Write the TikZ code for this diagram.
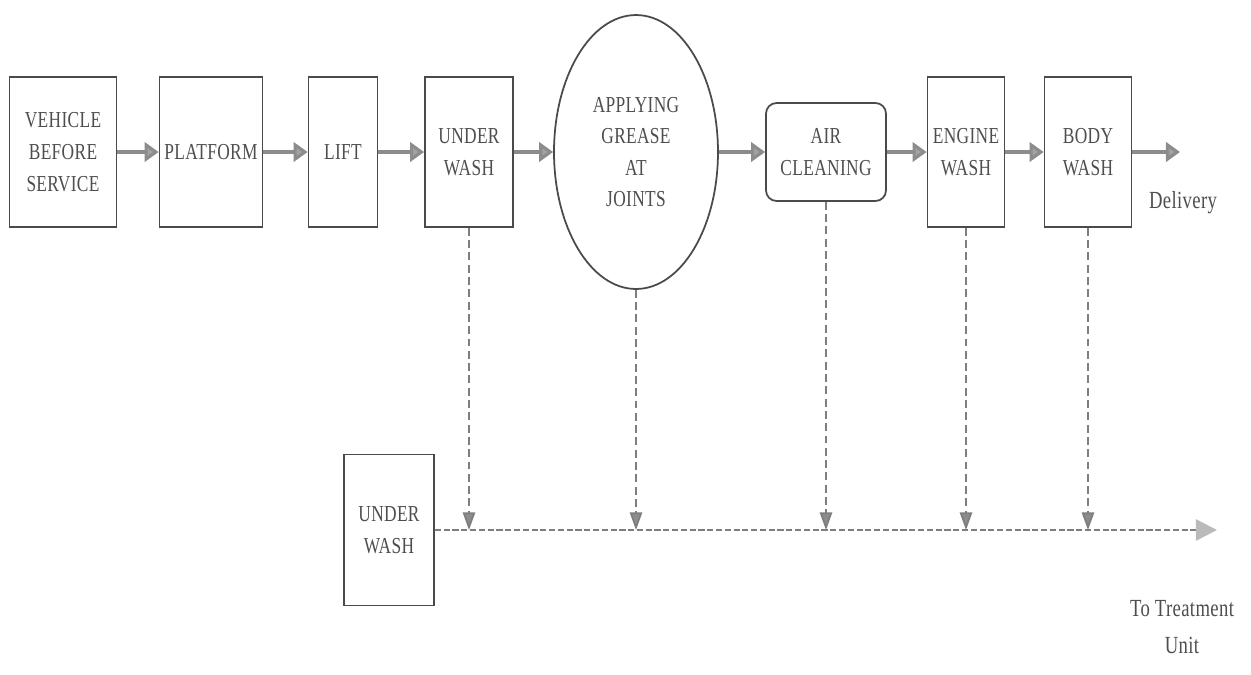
\documentclass[tikz,border=0pt]{standalone}
\usepackage{fontspec}
\setmainfont{Liberation Serif}[FakeStretch=0.76, LetterSpace=1.5]
\usetikzlibrary{arrows.meta,shapes.geometric}
\definecolor{inkline}{HTML}{4A4A4A}
\definecolor{inktext}{HTML}{4E4E4E}
\definecolor{flowgray}{HTML}{8C8C8C}
\begin{document}
\begin{tikzpicture}[
  x=0.02cm, y=-0.02cm,
  svcbox/.style = {draw=inkline, line width=1pt, inner sep=0pt, align=center,
                   text=inktext, font=\fontsize{13}{18}\selectfont},
  svcoval/.style = {svcbox, ellipse},
  svcflow/.style = {draw=flowgray, line width=1.8pt,
                    -{Triangle[length=8pt, width=11pt, fill=flowgray!80]}},
  svcdrain/.style = {draw=flowgray!90!black, line width=1pt,
                     dash pattern=on 4.5pt off 2.5pt,
                     -{Triangle[length=10pt, width=7pt, fill=flowgray]}},
  svclbl/.style = {text=inktext, font=\fontsize{14}{21}\selectfont, align=center}
]
  \useasboundingbox (0,0) rectangle (1251,674);
  % service line
  \node[svcbox, minimum width=2.14cm, minimum height=3cm] (vehicle) at (63,152) {VEHICLE\\BEFORE\\SERVICE};
  \node[svcbox, minimum width=2.06cm, minimum height=3cm] (platform) at (211,152) {PLATFORM};
  \node[svcbox, minimum width=1.38cm, minimum height=3cm] (lift) at (343,152) {LIFT};
  \node[svcbox, minimum width=1.76cm, minimum height=3cm] (uwash) at (469,152) {UNDER\\WASH};
  \node[svcoval, minimum width=3.28cm, minimum height=5.48cm] (grease) at (636,152) {APPLYING\\GREASE\\AT\\JOINTS};
  \node[svcbox, rounded corners=6pt, minimum width=2.4cm, minimum height=1.96cm] (air) at (826,152) {AIR\\CLEANING};
  \node[svcbox, minimum width=1.54cm, minimum height=3cm] (engine) at (966,152) {ENGINE\\WASH};
  \node[svcbox, minimum width=1.74cm, minimum height=3cm] (body) at (1088,152) {BODY\\WASH};
  \coordinate (out) at (1180,152);
  \node[svclbl] (delivery) at (1183,203) {Delivery};
  \foreach \a/\b in {vehicle/platform, platform/lift, lift/uwash, uwash/grease,
                     grease/air, air/engine, engine/body, body/out}
    \draw[svcflow] (\a.east) -- (\b.west);
  % drain line
  \node[svcbox, minimum width=1.8cm, minimum height=3.02cm] (uwashb) at (389,530) {UNDER\\WASH};
  \coordinate (drain) at (1217,530);
  \draw[svcdrain, line width=1.4pt, dash pattern=on 3.5pt off 1.5pt,
        -{Triangle[length=12pt, width=12pt, color=flowgray!60]}] (uwashb.east) -- (drain);
  \foreach \a in {uwash, grease, air, engine, body}
    \draw[svcdrain] (\a.south) -- (\a.south |- drain);
  \node[svclbl] (treat) at (1182,627) {To Treatment\\Unit};
\end{tikzpicture}
\end{document}
